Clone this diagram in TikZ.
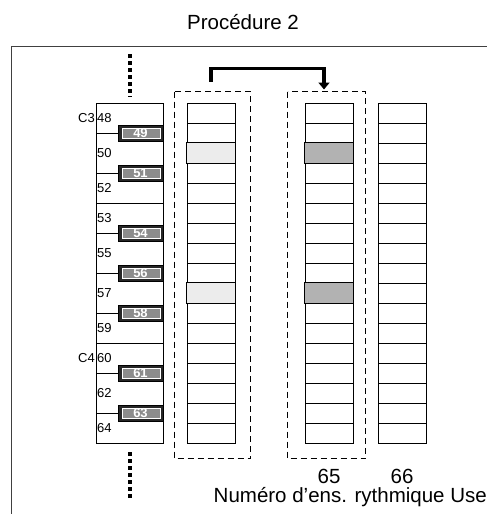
\documentclass[tikz,border=0pt]{standalone}
\usepackage{fontspec}
\setmainfont{Liberation Sans}
\usetikzlibrary{positioning,arrows.meta,calc}

\begin{document}
\begin{tikzpicture}[x=1pt, y=-1pt, >=Stealth,
    every node/.style={font=\fontsize{13}{15}\selectfont},
    cell/.style={draw, line width=1pt, minimum width=48pt, minimum height=20pt, inner sep=0pt},
    blackkey/.style={draw, line width=1pt, fill=black!85, text=white,
        minimum width=45pt, minimum height=16pt, inner sep=0pt,
        font=\fontsize{13}{15}\selectfont\bfseries,
        path picture={\draw[white, line width=0.6pt, fill=black!45]
            ([xshift=4pt,yshift=-3pt]path picture bounding box.north west) rectangle
            ([xshift=-3pt,yshift=3pt]path picture bounding box.south east);}},
    bignum/.style={font=\fontsize{20.5}{24}\selectfont},
    setbox/.style={draw, line width=1pt, dash pattern=on 6pt off 4pt}]
  \useasboundingbox (0,0) rectangle (487,514);

  % frame and title
  \draw[line width=0.9pt, black!75] (11,514) -- (11,46) -- (487,46);
  \node[bignum] (title) at (243,22) {Procédure 2};

  % keyboard
  \node[draw, line width=1.1pt, minimum width=67pt, minimum height=340pt,
        inner sep=0pt, anchor=north west] (kbd) at (96,103) {};
  \draw[line width=0.9pt] (96,203) -- (163,203);
  \draw[line width=0.9pt] (96,343) -- (163,343);
  \foreach \n/\k in {49/1,51/3,54/6,56/8,58/10,61/13,63/15} {
    \node[blackkey] (b\n) at (140.5,113+20*\k) {\n};
    \draw[line width=0.9pt] (kbd.west |- b\n) -- (b\n.west);
  }
  \foreach \n/\wy in {48/118,50/153,52/188,53/218,55/253,57/293,59/328,60/358,62/393,64/428}
    \node[anchor=west, inner sep=1pt] (w\n) at (96,\wy) {\n};
  \node[anchor=east, inner sep=1pt] (c3) at (w48.west) {C3};
  \node[anchor=east, inner sep=1pt] (c4) at (w60.west) {C4};

  \draw[line width=3.5pt, dash pattern=on 4pt off 3pt] (130,54) -- (130,97);
  \draw[line width=3.5pt, dash pattern=on 4pt off 3pt] (130,452) -- (130,498);

  % rhythm set columns
  \foreach \c/\cx in {a/211,b/329,c/402}
    \foreach \k in {0,...,16}
      \node[cell] (\c\k) at (\cx,113+20*\k) {};
  \foreach \k in {2,9} {
    \draw[line width=1.3pt, fill=gray!15] (a\k.north west) rectangle (a\k.south east);
    \draw[line width=1.3pt, fill=gray!60] (b\k.north west) rectangle (b\k.south east);
  }

  \draw[setbox] ($(a0.north west)+(-12,-11)$) rectangle ($(a16.south east)+(15,15)$);
  \draw[setbox] ($(b0.north west)+(-17,-11)$) rectangle ($(b16.south east)+(12,15)$);

  % copy arrow
  \coordinate (src) at ($(a0.north)+(0,-21)$);
  \coordinate (dst) at ($(b0.north)+(-5,-13)$);
  \draw[line width=3.2pt, -{Triangle[width=11pt,length=7pt]}] (src) -- ++(0,-13) -| (dst);

  \node[bignum] (n65) at ($(b16.south)+(0,33)$) {65};
  \node[bignum] (n66) at ($(c16.south)+(0,33)$) {66};
  \node[bignum, anchor=east, inner sep=0pt] (setno) at (487,497) {Numéro d'ens. rythmique Use};
\end{tikzpicture}
\end{document}
